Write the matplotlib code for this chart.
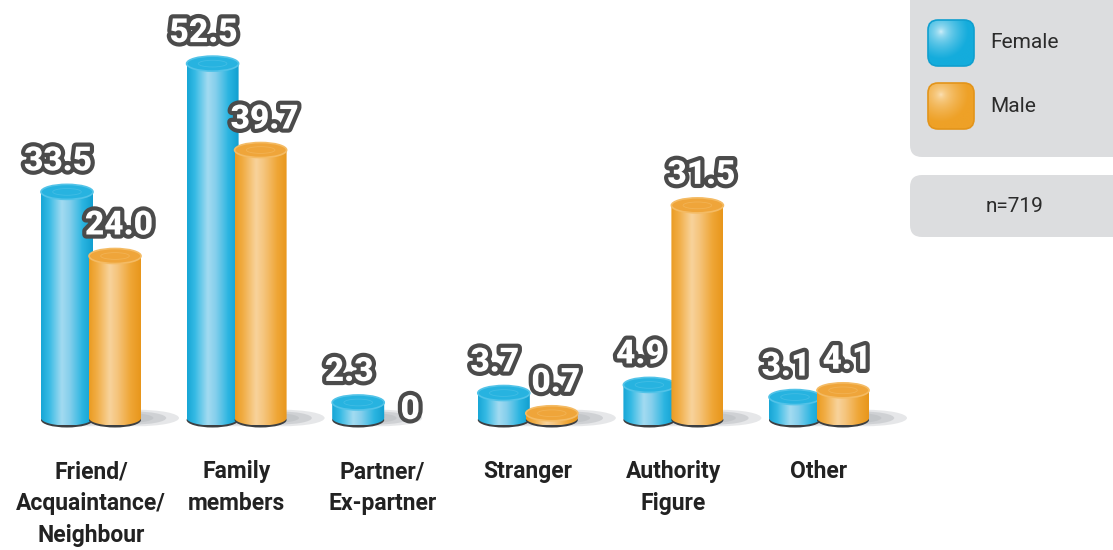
import numpy as np
import matplotlib
matplotlib.use('Agg')
import matplotlib.pyplot as plt
from matplotlib.patches import Ellipse, FancyBboxPatch, PathPatch
from matplotlib.path import Path
from matplotlib.colors import LinearSegmentedColormap, to_rgb
import matplotlib.patheffects as pe

CATEGORIES = ['Friend/\nAcquaintance/\nNeighbour', 'Family\nmembers', 'Partner/\nEx-partner',
              'Stranger', 'Authority\nFigure', 'Other']
FEMALE = [33.5, 52.5, 2.3, 3.7, 4.9, 3.1]
MALE = [24.0, 39.7, 0.0, 0.7, 31.5, 4.1]
FEMALE_LABELS = ['33.5', '52.5', '2.3', '3.7', '4.9', '3.1']
MALE_LABELS = ['24.0', '39.7', '0', '0.7', '31.5', '4.1']
SERIES = ['Female', 'Male']
N_TEXT = 'n=719'

W, H = 1113, 550
X0, SP = 91, 145.6        # pixel centre of first group, pixels per group
BASE, PXU = 418, 6.75     # baseline pixel, pixels per percent

BLUE = LinearSegmentedColormap.from_list('blue', [
    (0.0, '#17a6d6'), (0.15, '#35bae4'), (0.4, '#a3dbf1'), (0.55, '#86cfec'),
    (0.8, '#2bb5e1'), (1.0, '#119fd0')])
ORANGE = LinearSegmentedColormap.from_list('orange', [
    (0.0, '#eb9c22'), (0.15, '#f1ad45'), (0.4, '#f8d39c'), (0.55, '#f5c47c'),
    (0.8, '#efa636'), (1.0, '#e8961b')])
STYLES = [(BLUE, '#27b3e0', '#52c3e8'), (ORANGE, '#efa53a', '#f4bb64')]

fig = plt.figure(figsize=(W / 100, H / 100), dpi=100)
ax = fig.add_axes([0, 0, 1, 1])
ax.axis('off')

bw = 52 / SP
off = 24 / SP
eh = 15 / PXU
grad = np.linspace(0, 1, 200).reshape(1, -1)


def cylinder(cx, v, style, z):
    cmap, top, rim = style
    x0, x1 = cx - bw / 2, cx + bw / 2
    # soft shadow to the right
    for k, a in [(1.0, 0.35), (0.8, 0.5), (0.6, 0.5)]:
        ax.add_patch(Ellipse((cx + 22 / SP * k, 0), 84 / SP * k, eh * 1.1 * k,
                             fc='#b9bcc0', ec='none', alpha=a, zorder=z - 0.5))
    ax.add_patch(Ellipse((cx, -2 / PXU), bw, eh, fc='#3c3f42', ec='none', zorder=z))
    t = np.linspace(np.pi, 2 * np.pi, 60)
    arc = np.column_stack([cx + bw / 2 * np.cos(t), eh / 2 * np.sin(t)])
    verts = np.vstack([[x0, v], arc, [x1, v], [x0, v]])
    codes = [Path.MOVETO] + [Path.LINETO] * (len(verts) - 2) + [Path.CLOSEPOLY]
    clip = PathPatch(Path(verts, codes), fc='none', ec='none', transform=ax.transData)
    ax.add_patch(clip)
    im = ax.imshow(grad, cmap=cmap, extent=[x0, x1, -eh / 2, v], aspect='auto',
                   interpolation='bicubic', zorder=z + 0.1)
    im.set_clip_path(clip)
    ax.add_patch(Ellipse((cx, v), bw, eh, fc=top, ec=rim, lw=1.2, zorder=z + 0.2))
    ax.add_patch(Ellipse((cx, v), bw * 0.55, eh * 0.45, fc='none', ec=rim, lw=0.6,
                         alpha=0.6, zorder=z + 0.3))


label_fx = dict(fontsize=24, fontweight='black', family='Roboto', color='white',
                ha='center', va='bottom', zorder=20,
                path_effects=[pe.withStroke(linewidth=6, foreground='#4b4b4b')])

for i in range(len(CATEGORIES)):
    for s, (vals, labs, dx, sgn) in enumerate([(FEMALE, FEMALE_LABELS, -9, -1),
                                               (MALE, MALE_LABELS, 4, 1)]):
        cx = i + sgn * off
        v = vals[i]
        if v > 0:
            cylinder(cx, v, STYLES[s], 3 + s)
            ty = v + eh / 2 + 7 / PXU
        else:
            ty = -8 / PXU
        ax.text(cx + dx / SP, ty, labs[i], **label_fx)
    ax.text(i, -(460 - BASE) / PXU, CATEGORIES[i], ha='center', va='top', fontsize=16.5,
            fontweight='bold', family='Roboto', color='#222222', linespacing=1.5)

ax.set_xlim(-X0 / SP, (W - X0) / SP)
ax.set_ylim(-(H - BASE) / PXU, BASE / PXU)

# legend panel in pixel coordinates
lax = fig.add_axes([0, 0, 1, 1], zorder=5)
lax.set_xlim(0, W)
lax.set_ylim(H, 0)
lax.axis('off')
lax.add_patch(FancyBboxPatch((910, -40), 240, 197, boxstyle='round,pad=0,rounding_size=12',
                             fc='#dcdddf', ec='none'))
lax.add_patch(FancyBboxPatch((910, 175), 240, 62, boxstyle='round,pad=0,rounding_size=12',
                             fc='#dcdddf', ec='none'))

yy, xx = np.mgrid[0:1:80j, 0:1:80j]
r = np.clip(np.hypot(xx - 0.28, yy - 0.25) / 0.6, 0, 1)
for k, (name, base, hi, edge) in enumerate([(SERIES[0], '#14acdc', '#eaf8fd', '#109fcf'),
                                            (SERIES[1], '#eea127', '#fde9c8', '#e3941a')]):
    y0 = 20 + k * 63
    box = FancyBboxPatch((928, y0), 46, 46, boxstyle='round,pad=0,rounding_size=10',
                         fc='none', ec=edge, lw=1.2, zorder=3)
    lax.add_patch(box)
    b, h = np.array(to_rgb(base)), np.array(to_rgb(hi))
    img = h[None, None, :] * (1 - r[..., None] ** 0.5) + b[None, None, :] * r[..., None] ** 0.5
    im = lax.imshow(img, extent=[928, 974, y0 + 46, y0], interpolation='bicubic', zorder=2)
    im.set_clip_path(box)
    lax.text(990, y0 + 23, name, ha='left', va='center', fontsize=15, family='Roboto',
             color='#2b2b2b')
lax.text(1015, 207, N_TEXT, ha='center', va='center', fontsize=15, family='Roboto',
         color='#2b2b2b')
lax.set_xlim(0, W)
lax.set_ylim(H, 0)

fig.savefig('out.png', dpi=100, facecolor='white')
